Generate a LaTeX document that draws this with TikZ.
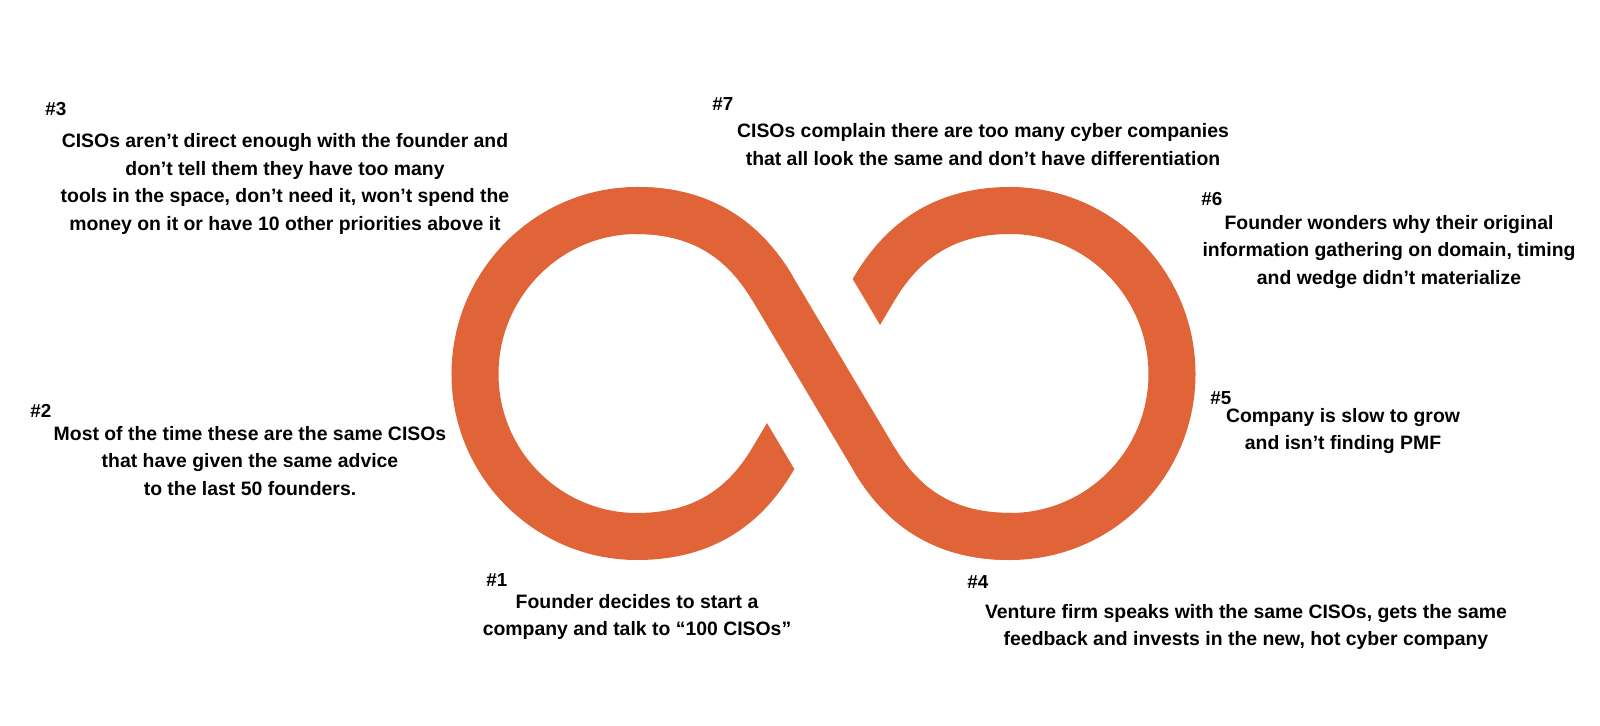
\documentclass[tikz,border=0pt]{standalone}
\usepackage{fontspec}
\setmainfont{Liberation Sans}
\definecolor{loopcol}{HTML}{E06437}
\begin{document}
\begin{tikzpicture}[x=0.025cm,y=0.025cm,
    note/.style={align=center,inner sep=0pt,font=\bfseries\fontsize{13.8pt}{19.6pt}\selectfont},
    tag/.style={anchor=west,inner sep=0pt,font=\bfseries\fontsize{13.4pt}{15pt}\selectfont},
    band/.style={draw=loopcol,line width=1.175cm},
    gap/.style={draw=white,line width=3.675cm}]
    \useasboundingbox (0,0) rectangle (1600,725);
    % the infinity loop
    \coordinate (p1) at (772.4,436.9);
    \coordinate (p2) at (874.6,265.1);
    \draw[band] (637,514.5) .. controls (707,514.5) and (746.9,479.8) .. (p1)
        -- (p2) .. controls (900.2,222.1) and (940,188.5) .. (1010,188.5)
        .. controls (1099.5,188.5) and (1172,261.3) .. (1172,351)
        .. controls (1172,440.7) and (1099.5,514.5) .. (1010,514.5)
        .. controls (940,514.5) and (900.2,479.8) .. (874.6,436.9)
        -- (772.4,265.1) .. controls (746.9,222.1) and (707,188.5) .. (637,188.5)
        .. controls (547.6,188.5) and (475,261.3) .. (475,351)
        .. controls (475,440.7) and (547.6,514.5) .. (637,514.5) -- cycle;
    \draw[gap] (p1) -- (p2);
    \draw[band] (637,514.5) .. controls (707,514.5) and (746.9,479.8) .. (p1)
        -- (p2) .. controls (900.2,222.1) and (940,188.5) .. (1010,188.5);
    % steps
    \node[tag] (n1) at (486,145) {\#1};
    \node[note] (t1) at (637,108) {Founder decides to start a\\company and talk to “100 CISOs”};
    \node[tag] (n2) at (30,314) {\#2};
    \node[note] (t2) at (250,264) {Most of the time these are the same CISOs\\that have given the same advice\\to the last 50 founders.};
    \node[tag] (n3) at (45,616) {\#3};
    \node[note] (t3) at (285,541) {CISOs aren’t direct enough with the founder and\\don’t tell them they have too many\\tools in the space, don’t need it, won’t spend the\\money on it or have 10 other priorities above it};
    \node[tag] (n4) at (967,143) {\#4};
    \node[note] (t4) at (1246,98) {Venture firm speaks with the same CISOs, gets the same\\feedback and invests in the new, hot cyber company};
    \node[tag] (n5) at (1210,327) {\#5};
    \node[note] (t5) at (1343,294) {Company is slow to grow\\and isn’t finding PMF};
    \node[tag] (n6) at (1201,526) {\#6};
    \node[note] (t6) at (1389,473) {Founder wonders why their original\\information gathering on domain, timing\\and wedge didn’t materialize};
    \node[tag] (n7) at (712,621) {\#7};
    \node[note] (t7) at (983,580.5) {CISOs complain there are too many cyber companies\\that all look the same and don’t have differentiation};
\end{tikzpicture}
\end{document}
